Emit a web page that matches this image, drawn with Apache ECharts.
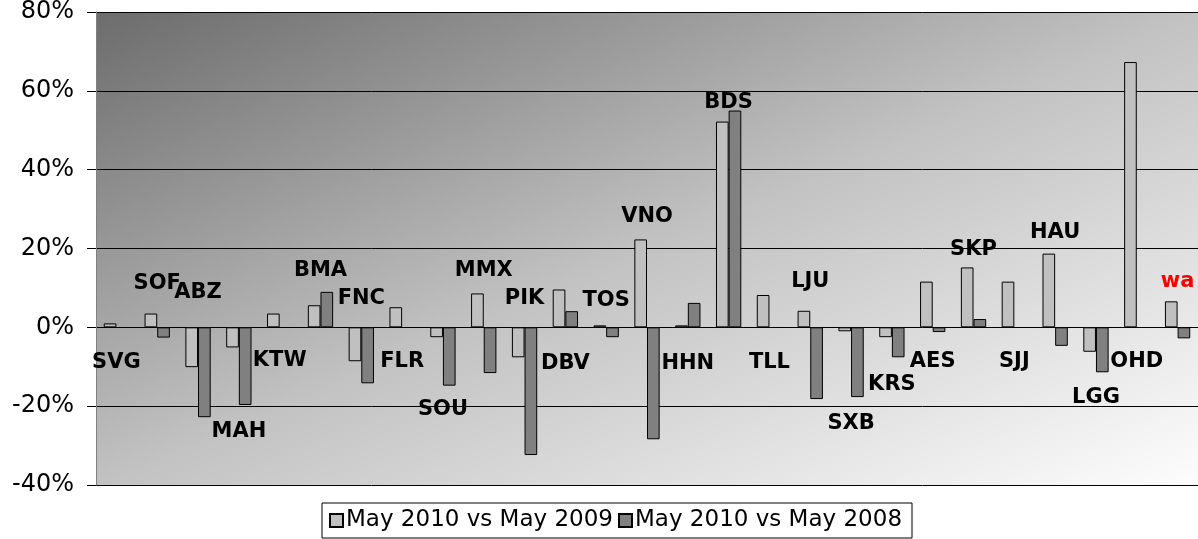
<!DOCTYPE html>
<html><head><meta charset="utf-8">
<script src="https://cdn.jsdelivr.net/npm/echarts@6/dist/echarts.min.js"></script>
<style>html,body{margin:0;padding:0;background:#fff}#c{width:1198px;height:539px}</style>
</head><body><div id="c"></div>
<script>
const categories = ['SVG','SOF','ABZ','MAH','KTW','BMA','FNC','FLR','SOU','MMX','PIK','DBV','TOS','VNO','HHN','BDS','TLL','LJU','SXB','KRS','AES','SKP','SJJ','HAU','LGG','OHD','wa'];
const vs2009 = [1.0, 3.5, -10.1, -5.1, 3.5, 5.6, -8.6, 5.1, -2.5, 8.6, -7.6, 9.6, 0.5, 22.3, 0.5, 52.2, 8.2, 4.2, -1.0, -2.5, 11.6, 15.2, 11.6, 18.7, -6.2, 67.3, 6.6];
const vs2008 = [null, -2.6, -22.8, -19.7, null, 9.0, -14.2, null, -14.8, -11.6, -32.4, 4.1, -2.5, -28.4, 6.2, 55.0, null, -18.2, -17.7, -7.6, -1.2, 2.1, null, -4.7, -11.4, null, -2.8];
const labelAnchor = [-9.0, 11.2, 8.7, -26.5, -8.3, 14.5, 7.4, -8.8, -20.9, 14.5, 7.2, -9.3, 6.9, 28.2, -9.3, 57.0, -9.0, 11.5, -24.5, -14.4, -8.8, 19.8, -8.8, 24.1, -17.9, -8.8, 11.5];
const yTicks = {min: -40, max: 80, interval: 20};
const seriesNames = ['May 2010 vs May 2009', 'May 2010 vs May 2008'];

const W = 1198, H = 539;
const G = {left: 96, right: 0, top: 11, bottom: 54};
const gw = W - G.left - G.right, gh = H - G.top - G.bottom;
// gradient axis perpendicular to the plot's anti-diagonal (dark top-left, light bottom-right)
const dlen = Math.sqrt(gw * gw + gh * gh);
const L = 2 * gw * gh / dlen;
const gx2 = G.left + L * gh / dlen, gy2 = G.top + L * gw / dlen;

const chart = echarts.init(document.getElementById('c'), null, {renderer: 'canvas'});
const labelData = categories.map((c, i) => ({
  value: [i, labelAnchor[i]],
  label: {color: c === 'wa' ? '#ff0000' : '#000000'}
}));
chart.setOption({
  animation: false,
  textStyle: {fontFamily: 'DejaVu Sans'},
  grid: {
    left: G.left, right: G.right, top: G.top, bottom: G.bottom,
    show: true, borderWidth: 0,
    backgroundColor: new echarts.graphic.LinearGradient(G.left, G.top, gx2, gy2, [
      {offset: 0, color: '#6c6c6c'},
      {offset: 0.5, color: '#c2c2c2'},
      {offset: 1, color: '#fdfdfd'}
    ], true)
  },
  legend: {
    data: seriesNames,
    left: 322, top: 503,
    padding: [6, 10, 6, 7],
    borderColor: '#000', borderWidth: 1,
    itemWidth: 13, itemHeight: 13, itemGap: 5,
    icon: 'rect',
    textStyle: {fontSize: 23, color: '#000', fontFamily: 'DejaVu Sans', padding: [0, 0, 0, -2]}
  },
  xAxis: {
    type: 'category', data: categories,
    axisLine: {show: false}, axisTick: {show: false}, axisLabel: {show: false},
    splitLine: {show: false}
  },
  yAxis: {
    type: 'value', min: yTicks.min, max: yTicks.max, interval: yTicks.interval,
    axisLine: {show: true, lineStyle: {color: '#808080', width: 1}},
    axisTick: {show: true, length: 9, lineStyle: {color: '#000'}},
    axisLabel: {formatter: '{value}%', fontSize: 24, color: '#000', margin: 22, fontFamily: 'DejaVu Sans'},
    splitLine: {show: true, lineStyle: {color: '#000', width: 1}}
  },
  series: [
    {
      name: seriesNames[0], type: 'bar', data: vs2009,
      barGap: '0%', barCategoryGap: '38%',
      itemStyle: {color: '#c0c0c0', borderColor: '#000', borderWidth: 1}
    },
    {
      name: seriesNames[1], type: 'bar', data: vs2008,
      barGap: '0%', barCategoryGap: '38%',
      itemStyle: {color: '#808080', borderColor: '#000', borderWidth: 1}
    },
    {
      name: 'labels', type: 'scatter', data: labelData,
      symbolSize: 0, silent: true, z: 5,
      itemStyle: {opacity: 1},
      label: {
        show: true, position: 'inside', opacity: 1,
        formatter: p => categories[p.value[0]],
        fontSize: 21, fontWeight: 'bold', fontFamily: 'DejaVu Sans'
      }
    }
  ]
});
</script></body></html>
